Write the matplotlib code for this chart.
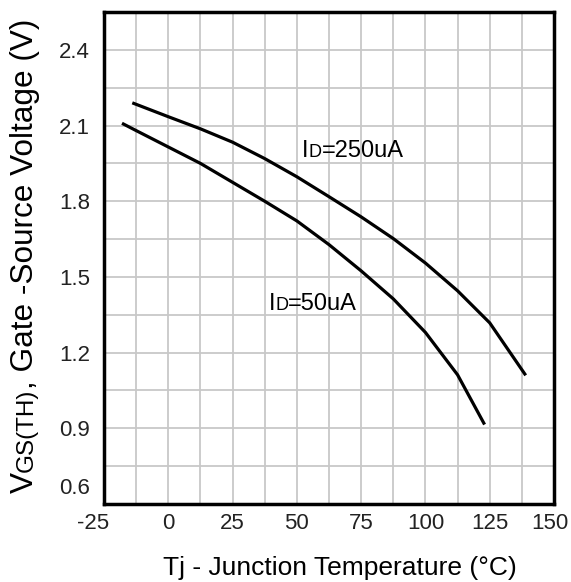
import matplotlib
matplotlib.use("Agg")
import matplotlib.pyplot as plt
import matplotlib.transforms as mtransforms

plt.rcParams['font.family'] = ['Liberation Sans', 'DejaVu Sans']

# ID = 250uA curve
t_250 = [-14, 0, 12.5, 25, 37.5, 50, 62.5, 75, 87.5, 100, 112.5, 125, 139]
v_250 = [2.19, 2.135, 2.087, 2.034, 1.969, 1.897, 1.818, 1.738, 1.652, 1.555, 1.445, 1.318, 1.11]

# ID = 50uA curve
t_50 = [-18, -12.5, 0, 12.5, 25, 37.5, 50, 62.5, 75, 87.5, 100, 112.5, 123]
v_50 = [2.109, 2.08, 2.015, 1.95, 1.875, 1.80, 1.722, 1.628, 1.524, 1.413, 1.28, 1.112, 0.915]

xticks = [-25, 0, 25, 50, 75, 100, 125, 150]
yticks = [0.6, 0.9, 1.2, 1.5, 1.8, 2.1, 2.4]

W, H = 571, 582
fig = plt.figure(figsize=(W / 100, H / 100), dpi=100)
ax = fig.add_axes([104 / W, 1 - 504 / H, 450 / W, 492 / H])

ax.set_xlim(-25, 150)
ax.set_ylim(0.6, 2.55)

# grid every 12.5 C and 0.15 V
ax.xaxis.remove_overlapping_locs = False
ax.yaxis.remove_overlapping_locs = False
ax.set_xticks([-25 + 12.5 * i for i in range(15)], minor=True)
ax.set_yticks([0.6 + 0.15 * i for i in range(14)], minor=True)
ax.grid(True, which='minor', color='#c8c8c8', linewidth=1.3)
ax.set_axisbelow(True)

ax.set_xticks(xticks)
ax.set_xticklabels([str(v) for v in xticks])
ax.set_yticks(yticks)
ax.set_yticklabels(['%.1f' % v for v in yticks])
ax.tick_params(which='both', length=0, labelsize=16, colors='#222222')
ax.tick_params(axis='x', pad=6.5)
ax.tick_params(axis='y', pad=10)

for s in ax.spines.values():
    s.set_linewidth(2.5)
    s.set_color('black')

ax.plot(t_250, v_250, color='black', linewidth=2.3, solid_capstyle='butt', solid_joinstyle='round')
ax.plot(t_50, v_50, color='black', linewidth=2.3, solid_capstyle='butt', solid_joinstyle='round')

# shift a few edge tick labels like the original
xl = ax.get_xticklabels()
xl[0].set_transform(xl[0].get_transform() + mtransforms.ScaledTranslation(-11 / 100, 0, fig.dpi_scale_trans))
xl[-1].set_transform(xl[-1].get_transform() + mtransforms.ScaledTranslation(-4 / 100, 0, fig.dpi_scale_trans))
yl = ax.get_yticklabels()
yl[0].set_transform(yl[0].get_transform() + mtransforms.ScaledTranslation(0, 18 / 100, fig.dpi_scale_trans))

renderer = fig.canvas.get_renderer()


def put_parts(parts, x0, y0, rotation=0):
    # draw text pieces of different sizes on a shared baseline, in pixel coords
    x, y = x0, y0
    for s, size in parts:
        t = fig.text(x / W, y / H, s, fontsize=size, rotation=rotation,
                     rotation_mode='anchor', ha='left', va='baseline',
                     color='black')
        bb = t.get_window_extent(renderer)
        if rotation == 90:
            y += bb.height
        else:
            x += bb.width


# curve labels
def label_in_axes(parts, xd, yd):
    px, py = ax.transData.transform((xd, yd))
    put_parts(parts, px, py)


label_in_axes([('I', 17), ('D', 13), ('=250uA', 17)], 52, 1.975)
label_in_axes([('I', 17), ('D', 13), ('=50uA', 17)], 39, 1.37)

# y axis label with small GS(TH)
put_parts([('V', 22.7), ('GS(TH)', 17.5), (', Gate -Source Voltage (V)', 22.7)], 33, H - 493, rotation=90)

# x axis label
fig.text(340 / W, 7 / H, 'Tj - Junction Temperature (°C)', fontsize=19,
         ha='center', va='baseline')

fig.savefig('out.png', dpi=100)
